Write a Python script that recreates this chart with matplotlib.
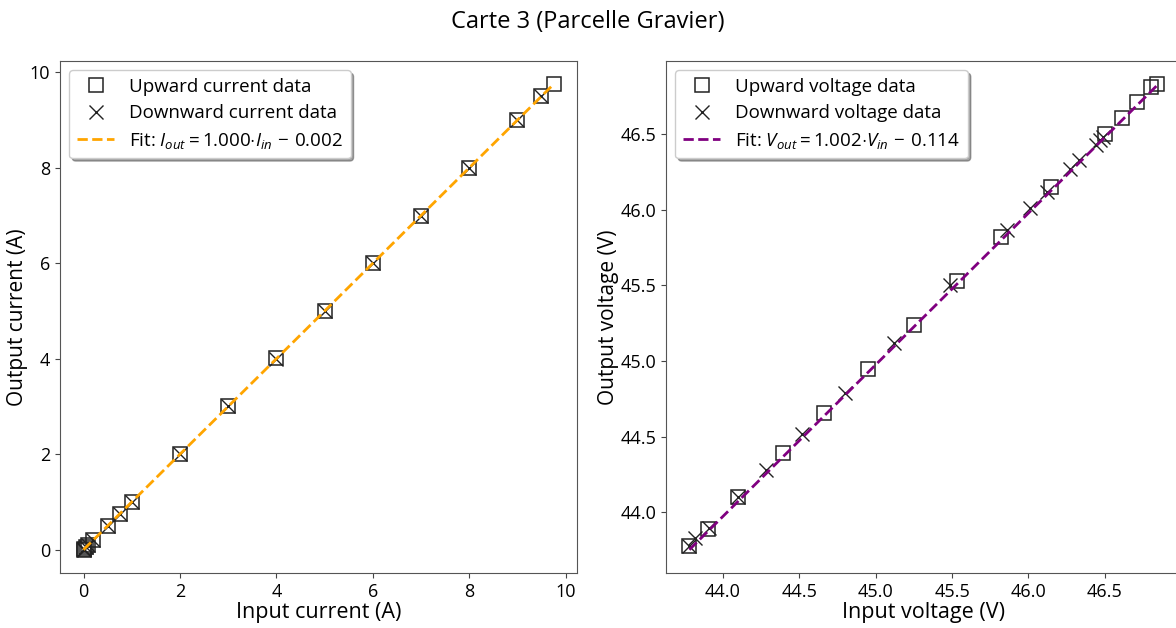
import numpy as np
import matplotlib
matplotlib.use("Agg")
import matplotlib.pyplot as plt

FONT = 'Open Sans'
plt.rcParams['font.family'] = [FONT, 'DejaVu Sans']
plt.rcParams['mathtext.fontset'] = 'custom'
plt.rcParams['mathtext.rm'] = FONT
plt.rcParams['mathtext.it'] = FONT + ':italic'
plt.rcParams['mathtext.bf'] = FONT + ':bold'

# ---- current data (A) ----
up_i_in = [0.0, 0.02, 0.05, 0.1, 0.2, 0.5, 0.75, 1.0, 2.0, 3.0, 4.0, 5.0, 6.0, 7.0, 8.0, 9.0, 9.5, 9.75]
up_i_out = [0.0, 0.02, 0.05, 0.1, 0.2, 0.5, 0.75, 1.0, 2.0, 3.0, 4.02, 5.0, 6.0, 7.0, 8.0, 9.0, 9.5, 9.75]
down_i_in = [9.5, 9.0, 8.0, 7.0, 6.0, 5.0, 4.0, 3.0, 2.0, 1.0, 0.75, 0.5, 0.2, 0.1, 0.05, 0.02, 0.0]
down_i_out = [9.5, 9.0, 8.0, 7.0, 6.0, 5.0, 4.0, 3.0, 2.0, 1.0, 0.75, 0.5, 0.2, 0.1, 0.05, 0.02, 0.0]
fit_i_slope, fit_i_icpt = 1.000, -0.002

# ---- voltage data (V) ----
up_v_in = [43.78, 43.90, 44.10, 44.39, 44.66, 44.95, 45.25, 45.53, 45.82, 46.15, 46.50, 46.61, 46.71, 46.80, 46.84]
up_v_out = [43.78, 43.89, 44.10, 44.39, 44.66, 44.95, 45.24, 45.53, 45.82, 46.15, 46.50, 46.61, 46.71, 46.81, 46.83]
down_v_in = [43.78, 43.82, 43.91, 44.10, 44.28, 44.52, 44.80, 45.12, 45.49, 45.86, 46.01, 46.12, 46.27, 46.33, 46.44, 46.47, 46.49]
down_v_out = [43.78, 43.83, 43.90, 44.10, 44.28, 44.52, 44.79, 45.12, 45.50, 45.87, 46.01, 46.12, 46.27, 46.33, 46.43, 46.46, 46.48]
fit_v_slope, fit_v_icpt = 1.002, -0.114

W, H = 1176, 628
fig = plt.figure(figsize=(W / 100, H / 100), dpi=100)

def px_axes(x0, y0, x1, y1):
    return fig.add_axes([x0 / W, (H - y1) / H, (x1 - x0) / W, (y1 - y0) / H])

ax1 = px_axes(60, 61, 577, 573)
ax2 = px_axes(666, 61, 1180, 573)

def panel(ax, xu, yu, xd, yd, slope, icpt, color, up_lbl, down_lbl, fit_lbl, xlabel, ylabel):
    ax.plot(xu, yu, linestyle='none', marker='s', markersize=9.5, markerfacecolor='none',
            markeredgecolor='#222222', markeredgewidth=1.1, label=up_lbl)
    ax.plot(xd, yd, linestyle='none', marker='x', markersize=10, color='#222222',
            markeredgewidth=1.0, label=down_lbl)
    allx = np.array(list(xu) + list(xd))
    xs = np.linspace(allx.min(), allx.max(), 100)
    ax.plot(xs, slope * xs + icpt, linestyle='--', color=color, linewidth=2, label=fit_lbl)
    ax.set_xlabel(xlabel, fontsize=15.5, labelpad=1)
    ax.set_ylabel(ylabel, fontsize=15, labelpad=1)
    ax.tick_params(labelsize=13, color='#444444')
    for s in ax.spines.values():
        s.set_color('#555555')
    ax.legend(loc='upper left', fontsize=13.5, shadow=True, fancybox=True,
              edgecolor='#cccccc', framealpha=1.0, labelspacing=0.45)

panel(ax1, up_i_in, up_i_out, down_i_in, down_i_out, fit_i_slope, fit_i_icpt, 'orange',
      'Upward current data', 'Downward current data',
      r'Fit: $I_{out} = 1.000{\cdot}I_{in}\,-\,0.002$',
      'Input current (A)', 'Output current (A)')
panel(ax2, up_v_in, up_v_out, down_v_in, down_v_out, fit_v_slope, fit_v_icpt, 'purple',
      'Upward voltage data', 'Downward voltage data',
      r'Fit: $V_{out} = 1.002{\cdot}V_{in}\,-\,0.114$',
      'Input voltage (V)', 'Output voltage (V)')

ax1.set_xticks([0, 2, 4, 6, 8, 10])
ax1.set_yticks([0, 2, 4, 6, 8, 10])
ax2.set_xticks([44.0, 44.5, 45.0, 45.5, 46.0, 46.5])
ax2.set_yticks([44.0, 44.5, 45.0, 45.5, 46.0, 46.5])
ax2.xaxis.set_major_formatter(matplotlib.ticker.FormatStrFormatter('%.1f'))
ax2.yaxis.set_major_formatter(matplotlib.ticker.FormatStrFormatter('%.1f'))

fig.text(0.5, 1 - 22 / H, 'Carte 3 (Parcelle Gravier)', ha='center', va='center', fontsize=17)

fig.savefig('out.png', dpi=100)
